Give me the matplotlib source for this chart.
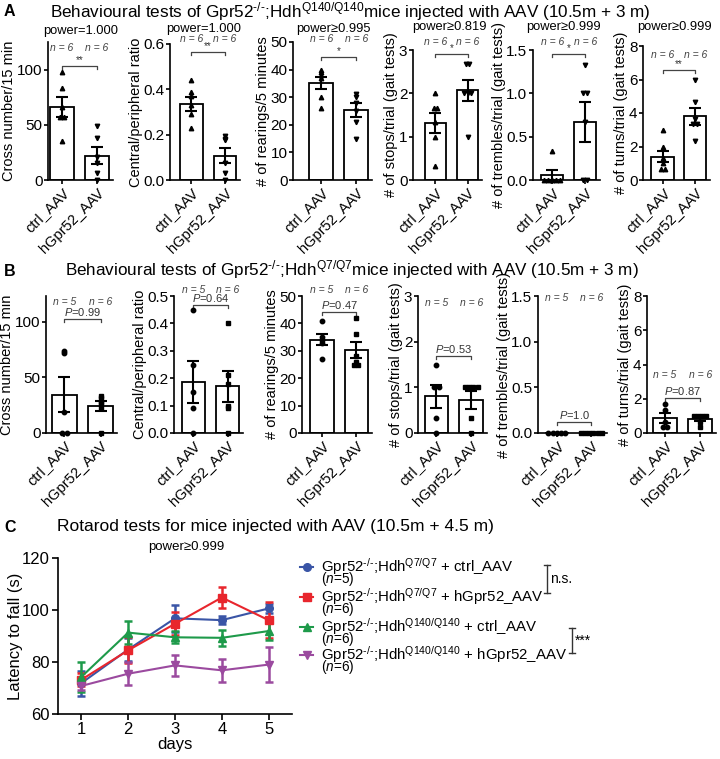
import numpy as np
import matplotlib
matplotlib.use('Agg')
import matplotlib.pyplot as plt
from matplotlib.lines import Line2D
from matplotlib.transforms import blended_transform_factory

plt.rcParams['font.family'] = ['Liberation Sans', 'DejaVu Sans']
plt.rcParams['mathtext.fontset'] = 'custom'
plt.rcParams['mathtext.rm'] = 'Liberation Sans'
plt.rcParams['mathtext.it'] = 'Liberation Sans:italic'
plt.rcParams['mathtext.bf'] = 'Liberation Sans:bold'

W, H = 720, 759
groups = ['ctrl_AAV', 'hGpr52_AAV']
KO = '$^{\\mathrm{\u2010/\u2010}}$'

# ---- panel A : Gpr52-/-;Hdh Q140/Q140 ----
a_ylabels = ['Cross number/15 min', 'Central/peripheral ratio', '# of rearings/5 minutes',
             '# of stops/trial (gait tests)', '# of trembles/trial (gait tests)',
             '# of turns/trial (gait tests)']
a_ymax = [125, 0.6, 50, 3, 1.5, 8]
a_yticks = [[0, 50, 100], [0, 0.2, 0.4, 0.6], [0, 10, 20, 30, 40, 50], [0, 1, 2, 3],
            [0, 0.5, 1.0, 1.5], [0, 2, 4, 6, 8]]
a_yticklabels = [['0', '50', '100'], ['0.0', '0.2', '0.4', '0.6'], ['0', '10', '20', '30', '40', '50'],
                 ['0', '1', '2', '3'], ['0.0', '0.5', '1.0', '1.5'], ['0', '2', '4', '6', '8']]
a_means = [[66, 22], [0.336, 0.108], [35.0, 25.3], [1.32, 2.07], [0.055, 0.67], [1.4, 3.8]]
a_sems = [[9, 7.5], [0.03, 0.032], [2.2, 2.5], [0.23, 0.24], [0.055, 0.23], [0.35, 0.5]]
a_ctrl_pts = [[98, 83, 66, 57, 57, 35],
              [0.44, 0.39, 0.37, 0.33, 0.29, 0.23],
              [40, 39, 38, 37, 30, 26],
              [2.0, 1.67, 1.67, 1.33, 1.0, 0.33],
              [0.33, 0, 0, 0, 0, 0],
              [3.0, 2.0, 1.33, 1.0, 0.67, 0.67]]
a_hgpr_pts = [[49, 38, 21, 15, 6, 0],
              [0.196, 0.18, 0.175, 0.077, 0.033, 0.0],
              [31, 30, 28, 25, 21, 15],
              [2.67, 2.67, 2.0, 2.0, 2.0, 1.0],
              [1.33, 1.0, 1.0, 0.67, 0, 0],
              [6.0, 4.67, 3.67, 3.33, 3.33, 2.33]]
a_power = ['power=1.000', 'power=1.000', 'power\u22650.995', 'power\u22650.819',
           'power\u22650.999', 'power\u22650.999']
a_stars = ['**', '**', '*', '*', '*', '**']
a_n = [(6, 6)] * 6

# ---- panel B : Gpr52-/-;Hdh Q7/Q7 ----
b_ylabels = a_ylabels
b_ymax = [123, 0.5, 50, 3, 1.5, 8]
b_yticks = [[0, 50, 100], [0, 0.1, 0.2, 0.3, 0.4, 0.5], [0, 10, 20, 30, 40, 50], [0, 1, 2, 3],
            [0, 0.5, 1.0, 1.5], [0, 2, 4, 6, 8]]
b_yticklabels = [['0', '50', '100'], ['0.0', '0.1', '0.2', '0.3', '0.4', '0.5'],
                 ['0', '10', '20', '30', '40', '50'], ['0', '1', '2', '3'],
                 ['0.0', '0.5', '1.0', '1.5'], ['0', '2', '4', '6', '8']]
b_means = [[34.5, 24.5], [0.185, 0.17], [34.0, 30.3], [0.8, 0.73], [0, 0], [0.87, 0.83]]
b_sems = [[15.5, 4.5], [0.077, 0.057], [2.0, 3.0], [0.25, 0.2], [0, 0], [0.3, 0.12]]
b_ctrl_pts = [[74, 72, 19, 0, 0],
              [0.45, 0.25, 0.15, 0.09, 0.0],
              [41, 35, 34, 33, 27],
              [1.5, 1.0, 1.0, 0.33, 0],
              [0, 0, 0, 0, 0],
              [1.67, 1.33, 0.67, 0.33, 0.33]]
b_hgpr_pts = [[33, 31, 28, 27, 22, 0],
              [0.40, 0.21, 0.18, 0.10, 0.09, 0.0],
              [42, 36, 28, 26, 25, 25],
              [1.0, 1.0, 1.0, 1.0, 0.33, 0.0],
              [0, 0, 0, 0, 0, 0],
              [1.0, 1.0, 1.0, 1.0, 0.67, 0.33]]
b_pvals = ['0.99', '0.64', '0.47', '0.53', '1.0', '0.87']
b_n = [(5, 6)] * 6

# ---- panel C : rotarod ----
days = [1, 2, 3, 4, 5]
c_blue = [71.9, 84.8, 96.8, 96.1, 100.6]
c_blue_sem = [4.8, 4.3, 5.3, 1.6, 1.6]
c_red = [73.2, 84.5, 94.7, 104.8, 96.1]
c_red_sem = [2.5, 5.0, 4.5, 4.2, 7.0]
c_green = [74.3, 91.3, 89.5, 89.3, 91.9]
c_green_sem = [5.8, 4.5, 2.3, 3.0, 3.6]
c_purple = [70.8, 75.5, 78.7, 76.8, 79.0]
c_purple_sem = [1.5, 4.5, 4.0, 4.4, 6.6]
c_labels = ['Gpr52' + KO + ';Hdh$^{\\mathrm{Q7/Q7}}$ + ctrl_AAV',
            'Gpr52' + KO + ';Hdh$^{\\mathrm{Q7/Q7}}$ + hGpr52_AAV',
            'Gpr52' + KO + ';Hdh$^{\\mathrm{Q140/Q140}}$ + ctrl_AAV',
            'Gpr52' + KO + ';Hdh$^{\\mathrm{Q140/Q140}}$ + hGpr52_AAV']
c_n = [5, 6, 6, 6]

# ---- layout (pixels) ----
a_rect = [(48, 113, 42), (170, 240, 44), (293, 372, 42), (413, 482, 50), (533, 600, 50), (643, 710, 46)]
a_bottom = 180
a_xleft = [-0.39, -0.64, -0.81, -0.7, -0.58, -0.6]
a_n_y = [48, 39, 39, 42, 42, 55]
a_br_y = [66, 52, 57, 54, 54, 70]
a_power_xy = [(81, 31), (204, 29), (333, 29), (449, 27), (563, 27), (674, 27)]

b_rect = [(46, 117, 296), (174, 243, 296), (302, 372, 296), (418, 487, 296), (538, 607, 296), (647, 716, 296)]
b_bottom = 433
b_xleft = [-0.51, -0.57, -0.57, -0.53, -0.54, -0.51]
b_n_y = [302, 290, 290, 303, 298, 375]
b_br_y = [319, 305, 312, 356, 422, 398]

fx = lambda px: px / W
fy = lambda py: 1 - py / H

fig = plt.figure(figsize=(7.2, 7.59), dpi=100)


def spread(vals, step=0.12):
    vals = np.asarray(vals, float)
    off = np.zeros(len(vals))
    for v in np.unique(vals):
        idx = np.where(np.isclose(vals, v))[0]
        off[idx] = (np.arange(len(idx)) - (len(idx) - 1) / 2) * step
    return off


def bar_panel(rect, bottom, xleft, ymax, yticks, yticklabels, ylabel, means, sems,
              ctrl_pts, hgpr_pts, markers, n, n_y, br_y, br_text, italicP=False):
    l, r, t = rect
    ax = fig.add_axes([fx(l), fy(bottom), (r - l) / W, (bottom - t) / H])
    ax.bar([0, 1], means, width=0.68, color='white', edgecolor='black', linewidth=1.3, zorder=2)
    ax.errorbar([0, 1], means, yerr=sems, fmt='none', ecolor='black', elinewidth=1.5,
                capsize=4, capthick=1.5, zorder=3)
    for i, (pts, m) in enumerate(zip([ctrl_pts, hgpr_pts], markers)):
        ax.plot(i + spread(pts), pts, linestyle='none', marker=m, ms=3.2, color='black',
                zorder=4, clip_on=False)
    ax.set_xlim(xleft, 1.45)
    ax.set_ylim(0, ymax)
    ax.set_yticks(yticks)
    ax.set_yticklabels(yticklabels, fontsize=11)
    ax.set_xticks([0, 1])
    ax.set_xticklabels(groups, rotation=45, ha='right', rotation_mode='anchor', fontsize=10.5)
    ax.set_ylabel(ylabel, fontsize=10.5, labelpad=0.5)
    for s in ['top', 'right']:
        ax.spines[s].set_visible(False)
    for s in ['left', 'bottom']:
        ax.spines[s].set_linewidth(1.2)
    ax.tick_params(direction='out', length=3, width=1.2, pad=1)
    tr = ax.get_xaxis_transform()
    hpx = bottom - t
    ny = (bottom - n_y) / hpx
    for i, nn in enumerate(n):
        ax.text(i, ny, 'n = %d' % nn, transform=tr, ha='center', va='center',
                fontsize=7.5, style='italic', color='#444444', clip_on=False)
    by = (bottom - br_y) / hpx
    tick = 3 / hpx
    ax.add_line(Line2D([0, 0, 1, 1], [by - tick, by, by, by - tick], transform=tr,
                       color='#444444', lw=0.9, clip_on=False))
    if italicP:
        ax.text(0.5, by + 1 / hpx, r'$P$=' + br_text, transform=tr, ha='center', va='bottom',
                fontsize=8, color='#333333', clip_on=False)
    else:
        ax.text(0.5, by + 1 / hpx, br_text, transform=tr, ha='center', va='bottom',
                fontsize=7, color='#333333', clip_on=False)
    return ax


for k in range(6):
    bar_panel(a_rect[k], a_bottom, a_xleft[k], a_ymax[k], a_yticks[k], a_yticklabels[k],
              a_ylabels[k], a_means[k], a_sems[k], a_ctrl_pts[k], a_hgpr_pts[k],
              ['^', 'v'], a_n[k], a_n_y[k], a_br_y[k], a_stars[k])
    fig.text(fx(a_power_xy[k][0]), fy(a_power_xy[k][1]), a_power[k], ha='center', va='center',
             fontsize=9.3)

for k in range(6):
    bar_panel(b_rect[k], b_bottom, b_xleft[k], b_ymax[k], b_yticks[k], b_yticklabels[k],
              b_ylabels[k], b_means[k], b_sems[k], b_ctrl_pts[k], b_hgpr_pts[k],
              ['o', 's'], b_n[k], b_n_y[k], b_br_y[k], b_pvals[k], italicP=True)

# titles and panel letters
fig.text(fx(350), fy(12), 'Behavioural tests of Gpr52' + KO + ';Hdh$^{\\mathrm{Q140/Q140}}$'
         'mice injected with AAV (10.5m + 3 m)', ha='center', va='center', fontsize=12.3)
fig.text(fx(352), fy(270), 'Behavioural tests of Gpr52' + KO + ';Hdh$^{\\mathrm{Q7/Q7}}$'
         'mice injected with AAV (10.5m + 3 m)', ha='center', va='center', fontsize=12.3)
fig.text(fx(275), fy(526), 'Rotarod tests for mice injected with AAV (10.5m + 4.5 m)',
         ha='center', va='center', fontsize=12.5)
for letter, y in [('A', 12), ('B', 271), ('C', 528)]:
    fig.text(fx(4), fy(y), letter, ha='left', va='center', fontsize=11.5, fontweight='bold')

# panel C
axc = fig.add_axes([fx(58), fy(714), (292 - 58) / W, (714 - 558) / H])
c_series = [(c_blue, c_blue_sem, '#3a55a6', 'o'), (c_red, c_red_sem, '#e8262d', 's'),
            (c_green, c_green_sem, '#1e9a4a', '^'), (c_purple, c_purple_sem, '#9b4a9f', 'v')]
for vals, sem, col, m in c_series:
    axc.errorbar(days, vals, yerr=sem, color=col, marker=m, ms=5.5, lw=1.5, elinewidth=1.8,
                 capsize=3, capthick=1.8, clip_on=False)
axc.set_xlim(0.5, 5.5)
axc.set_ylim(60, 120)
axc.set_xticks(days)
axc.set_yticks([60, 80, 100, 120])
axc.tick_params(direction='out', length=4, width=1.2, labelsize=12, pad=2)
axc.set_xlabel('days', fontsize=12, labelpad=0)
axc.set_ylabel('Latency to fall (s)', fontsize=12)
axc.yaxis.set_label_coords(fx(23), 0.5,
                           transform=blended_transform_factory(fig.transFigure, axc.transAxes))
for s in ['top', 'right']:
    axc.spines[s].set_visible(False)
for s in ['left', 'bottom']:
    axc.spines[s].set_linewidth(1.2)
fig.text(fx(186), fy(547), 'power\u22650.999', ha='center', va='center', fontsize=9.5)

# legend drawn by hand
leg_y = [567, 597, 627, 655]
for (vals, sem, col, m), lab, nn, y in zip(c_series, c_labels, c_n, leg_y):
    fig.add_artist(Line2D([fx(300), fx(313)], [fy(y), fy(y)], color=col, lw=1.5,
                          transform=fig.transFigure))
    fig.add_artist(Line2D([fx(306.5)], [fy(y)], color=col, marker=m, ms=5.5,
                          transform=fig.transFigure))
    fig.text(fx(321), fy(y), lab, ha='left', va='center', fontsize=10.8)
    fig.text(fx(321), fy(y + 12.5), '($n$=%d)' % nn, ha='left', va='center', fontsize=9.8)

for x, y0, y1, txt, ty in [(547, 565, 593, 'n.s.', 579), (572, 628, 653, '***', 641)]:
    fig.add_artist(Line2D([fx(x), fx(x)], [fy(y0), fy(y1)], color='#333333', lw=1,
                          transform=fig.transFigure))
    for yy in (y0, y1):
        fig.add_artist(Line2D([fx(x - 3), fx(x + 3)], [fy(yy), fy(yy)], color='#333333', lw=1,
                              transform=fig.transFigure))
    fig.text(fx(x + 3), fy(ty), txt, ha='left', va='center', fontsize=10)

fig.savefig('out.png', dpi=100)
